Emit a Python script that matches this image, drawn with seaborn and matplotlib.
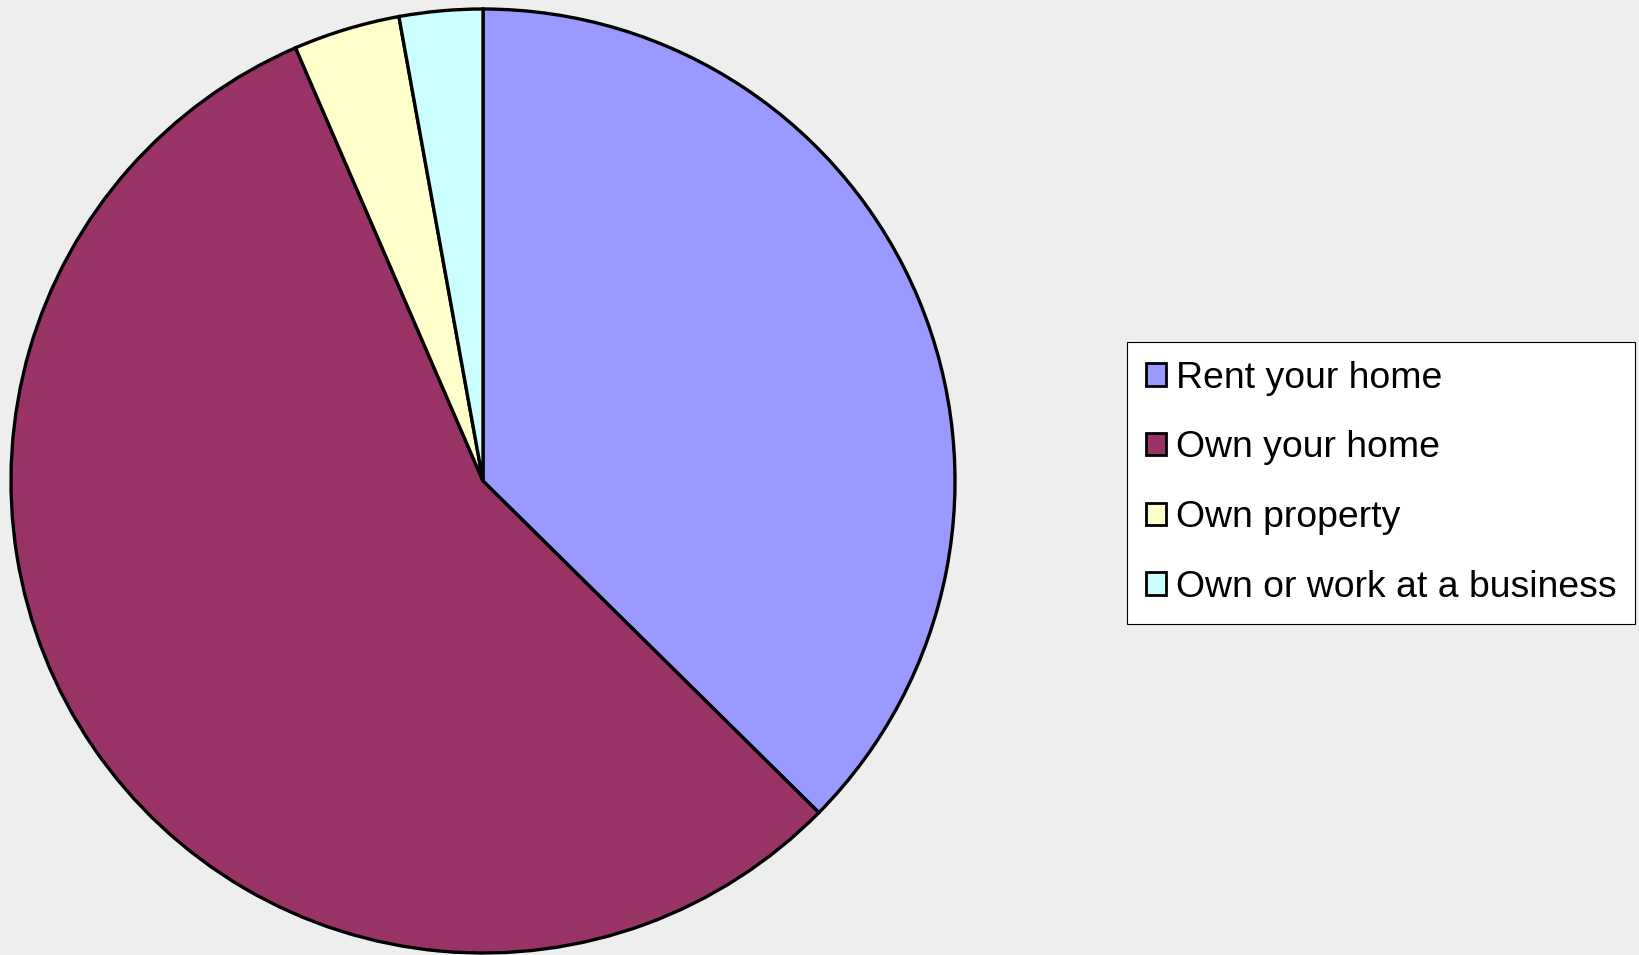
import matplotlib
matplotlib.use("Agg")
import matplotlib.pyplot as plt
import seaborn as sns
from matplotlib.patches import Patch

categories = ["Rent your home", "Own your home", "Own property", "Own or work at a business"]
values = [37.4, 56.1, 3.65, 2.85]
colors = ["#9999FF", "#993366", "#FFFFCC", "#CCFFFF"]

sns.set_style("white")
plt.rcParams["font.family"] = ["Liberation Sans", "DejaVu Sans"]
plt.rcParams["text.color"] = "black"

W, H = 1639, 955
fig = plt.figure(figsize=(W / 100, H / 100), dpi=100)
fig.patch.set_facecolor("#EEEEEE")

cx, cy, r = 483, 481, 472
ax = fig.add_axes([(cx - r) / W, (H - cy - r) / H, 2 * r / W, 2 * r / H])
ax.set_facecolor("none")
ax.pie(values, colors=colors, startangle=90, counterclock=False, radius=1,
       wedgeprops=dict(edgecolor="black", linewidth=2.4))
ax.set_xlim(-1.0, 1.0)
ax.set_ylim(-1.0, 1.0)
ax.set_aspect("equal")
ax.axis("off")

handles = [Patch(facecolor=c, edgecolor="black", linewidth=2.0) for c in colors]
leg = fig.legend(handles, categories, loc="upper left",
                 bbox_to_anchor=(1127 / W, 1 - 342 / H),
                 fontsize=26.9, frameon=True, fancybox=False, framealpha=1,
                 handlelength=0.55, handleheight=0.55, handletextpad=0.25,
                 labelspacing=0.93, borderpad=0.5, borderaxespad=0)
leg.get_frame().set_edgecolor("black")
leg.get_frame().set_linewidth(0.8)
leg.get_frame().set_facecolor("white")
for t in leg.get_texts():
    t.set_color("black")

fig.savefig("out.png", dpi=100, facecolor=fig.get_facecolor())
